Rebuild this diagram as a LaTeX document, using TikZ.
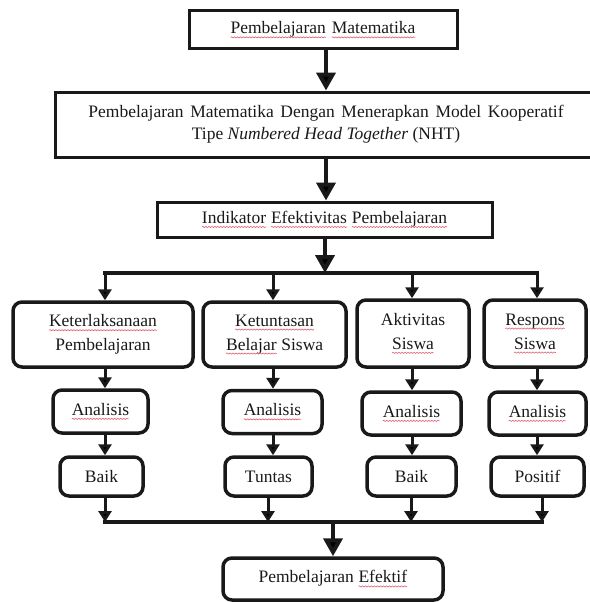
\documentclass[tikz,border=0pt]{standalone}
\usepackage{fontspec}
\setmainfont{Liberation Serif}
\usetikzlibrary{arrows.meta,decorations.pathmorphing}

\definecolor{spellred}{RGB}{225,95,115}
\definecolor{inkblack}{RGB}{25,25,25}

% red wavy underline for words flagged by the spell checker
\newcommand\spellmark[1]{%
  \tikz[baseline=(sw.base)]{%
    \node[inner sep=0pt, outer sep=0pt, draw=none, fill=none, minimum width=0pt,
          minimum height=0pt, rounded corners=0pt, anchor=base] (sw) {#1};
    \draw[spellred, line width=0.6pt, sharp corners, decorate,
          decoration={snake, amplitude=0.6pt, segment length=3pt}]
      ([yshift=-3.5pt]sw.base west) -- ([yshift=-3.5pt]sw.base east);}}

\tikzset{
  txt/.style={font=\fontsize{17.5}{22}\selectfont, text=inkblack, align=center, inner sep=0pt},
  sqbox/.style={txt, draw=inkblack, line width=3pt},
  rbox/.style={txt, draw=inkblack, line width=3.5pt, rounded corners=9pt},
  twoline/.style={font=\fontsize{17.5}{24}\selectfont},
  bigarrow/.style={draw=inkblack, line width=4pt, -{Triangle[width=19pt,length=18pt]}},
  smallarrow/.style={draw=inkblack, line width=3pt, -{Triangle[width=13pt,length=11pt]}},
  busline/.style={draw=inkblack, line width=3.5pt, line cap=rect},
}

\begin{document}
\begin{tikzpicture}[x=1pt,y=-1pt]
  \useasboundingbox (0,0) rectangle (589,602);

  % upper chain
  \node[sqbox, minimum width=268pt, minimum height=38pt] (pm) at (323,30)
    {\spellmark{Pembelajaran}\hspace{1pt} \spellmark{Matematika}};
  \node[sqbox, minimum width=542pt, minimum height=65pt] (nht) at (326,124.5)
    {{\spaceskip=6.6pt Pembelajaran Matematika Dengan Menerapkan Model Kooperatif}\\
     Tipe \textit{Numbered Head Together} (NHT)};
  \node[sqbox, minimum width=335pt, minimum height=35pt] (ind) at (324.5,219.5)
    {\spellmark{Indikator} \spellmark{Efektivitas} \spellmark{Pembelajaran}};

  % column positions
  \coordinate (m1) at (326,0);
  \coordinate (m2) at (325,0);
  \coordinate (c1) at (105,0);
  \coordinate (c2) at (273,0);
  \coordinate (c3) at (412,0);
  \coordinate (c4) at (537,0);
  \coordinate (d2) at (268,0);
  \coordinate (d3) at (411,0);
  \coordinate (d4) at (542,0);

  % indicators
  \node[rbox, twoline, minimum width=180pt, minimum height=65pt] (k1) at (103,334.5)
    {\spellmark{Keterlaksanaan}\\Pembelajaran};
  \node[rbox, twoline, minimum width=143pt, minimum height=65pt] (k2) at (274.5,334.5)
    {\spellmark{Ketuntasan}\\\spellmark{Belajar} Siswa};
  \node[rbox, twoline, minimum width=112pt, minimum height=67pt] (k3) at (413,333.5)
    {Aktivitas\\\spellmark{Siswa}};
  \node[rbox, twoline, minimum width=102pt, minimum height=67pt] (k4) at (535,333.5)
    {\spellmark{Respons}\\\spellmark{Siswa}};

  % analysis
  \node[rbox, minimum width=95pt, minimum height=43pt] (a1) at (100.5,411.5) {\spellmark{Analisis}};
  \node[rbox, minimum width=99pt, minimum height=43pt] (a2) at (272.5,412) {\spellmark{Analisis}};
  \node[rbox, minimum width=99pt, minimum height=43pt] (a3) at (411.5,413.5) {\spellmark{Analisis}};
  \node[rbox, minimum width=97pt, minimum height=43pt] (a4) at (537.5,413.5) {\spellmark{Analisis}};

  % results
  \node[rbox, minimum width=83pt, minimum height=39pt] (r1) at (101.5,476.5) {Baik};
  \node[rbox, minimum width=87pt, minimum height=39pt] (r2) at (268.5,476.5) {Tuntas};
  \node[rbox, minimum width=89pt, minimum height=39pt] (r3) at (411.5,476.5) {Baik};
  \node[rbox, minimum width=93pt, minimum height=39pt] (r4) at (537.5,476.5) {Positif};

  % conclusion
  \node[rbox, minimum width=220pt, minimum height=42pt] (eff) at (333,579)
    {Pembelajaran \spellmark{Efektif}};

  % top arrows
  \draw[bigarrow] (pm.south -| m1) -- (nht.north -| m1);
  \draw[bigarrow] (nht.south -| m1) -- (ind.north -| m1);

  % distribution bus
  \coordinate (busL) at (105,273);
  \coordinate (busR) at (537,273);
  \draw[busline] (busL) -- (busR);
  \draw[bigarrow] (ind.south -| m2) -- (busL -| m2);
  \foreach \c/\k in {c1/k1, c2/k2, c3/k3, c4/k4}
    \draw[smallarrow] (busL -| \c) -- (\k.north -| \c);

  % indicator to analysis to result
  \foreach \c/\k/\a/\r in {c1/k1/a1/r1, c2/k2/a2/r2, c3/k3/a3/r3, c4/k4/a4/r4} {
    \draw[smallarrow] (\k.south -| \c) -- (\a.north -| \c);
    \draw[smallarrow] (\a.south -| \c) -- (\r.north -| \c);
  }

  % collecting bus
  \coordinate (binL) at (105,522);
  \coordinate (binR) at (542,522);
  \draw[busline] (binL) -- (binR);
  \foreach \c/\r in {c1/r1, d2/r2, d3/r3, d4/r4}
    \draw[smallarrow] (\r.south -| \c) -- (binL -| \c);
  \draw[bigarrow] (binL -| eff) -- (eff.north);
\end{tikzpicture}
\end{document}
